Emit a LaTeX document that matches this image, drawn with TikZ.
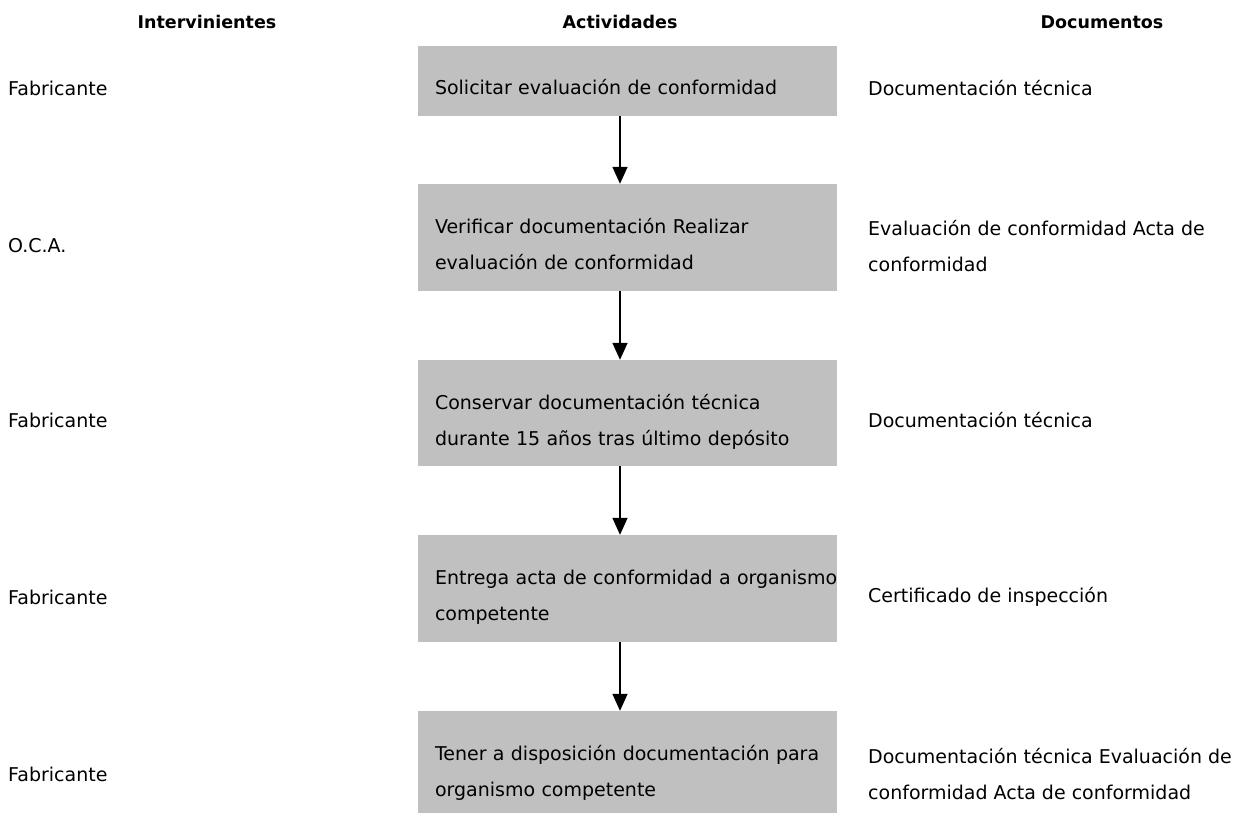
\documentclass[tikz,border=0pt]{standalone}
\usepackage{fontspec}
\setmainfont{DejaVu Sans}
\usetikzlibrary{arrows.meta}
\definecolor{boxgray}{RGB}{192,192,192}
\tikzset{
    every node/.style={inner sep=0pt, anchor=west,
    	font=\fontsize{19}{36}\selectfont}
}
\tikzset{
    head/.style={anchor=center, font=\fontsize{17.5}{36}\selectfont\bfseries},
    actbox/.style={rectangle, fill=boxgray, anchor=center, align=left,
    	minimum width=419pt, text width=385pt, inner xsep=17pt,
    	execute at begin node={\rule{0pt}{32.5pt}},
    	execute at end node={\rule[-4.5pt]{0pt}{4.5pt}}}
}
\tikzset{
    every edge/.append style={line width=1.5pt, -{Triangle[width=15pt,length=17pt]}}
}

\begin{document}
\begin{tikzpicture}
  \useasboundingbox (0pt,0pt) rectangle (1236pt,-813pt);
  \node [head] (h1) at (207pt,-22pt) {Intervinientes};
  \node [head] (h2) at (620pt,-22pt) {Actividades};
  \node [head] (h3) at (1102pt,-22pt) {Documentos};
  \node [actbox, minimum height=70pt] (a1) at (627.5pt,-81pt) {\mbox{Solicitar evaluación de conformidad}};
  \node [actbox, minimum height=107pt] (a2) at (627.5pt,-237.5pt) {\mbox{Verificar documentación Realizar}\\evaluación de conformidad};
  \node [actbox, minimum height=106pt] (a3) at (627.5pt,-413pt) {\mbox{Conservar documentación técnica}\\\mbox{durante 15 años tras último depósito}};
  \node [actbox, minimum height=107pt] (a4) at (627.5pt,-588.5pt) {\mbox{Entrega acta de conformidad a organismo}\\competente};
  \node [actbox, minimum height=107pt] (a5) at (627.5pt,-764.5pt) {\mbox{Tener a disposición documentación para}\\organismo competente};
  \node (p1) at (8pt,-88pt) {Fabricante};
  \node (p2) at (8pt,-246pt) {O.C.A.};
  \node (p3) at (8pt,-420pt) {Fabricante};
  \node (p4) at (8pt,-597pt) {Fabricante};
  \node (p5) at (8pt,-774pt) {Fabricante};
  \node (d1) at (868pt,-88pt) {Documentación técnica};
  \node [align=left] (d2) at (868pt,-246pt) {Evaluación de conformidad Acta de\\conformidad};
  \node (d3) at (868pt,-420pt) {Documentación técnica};
  \node (d4) at (868pt,-597pt) {Certificado de inspección};
  \node [align=left] (d5) at (868pt,-774pt) {Documentación técnica Evaluación de\\conformidad Acta de conformidad};
  \draw ([xshift=-7.5pt]a1.south) edge ([xshift=-7.5pt]a2.north);
  \draw ([xshift=-7.5pt]a2.south) edge ([xshift=-7.5pt]a3.north);
  \draw ([xshift=-7.5pt]a3.south) edge ([xshift=-7.5pt]a4.north);
  \draw ([xshift=-7.5pt]a4.south) edge ([xshift=-7.5pt]a5.north);
\end{tikzpicture}
\end{document}
